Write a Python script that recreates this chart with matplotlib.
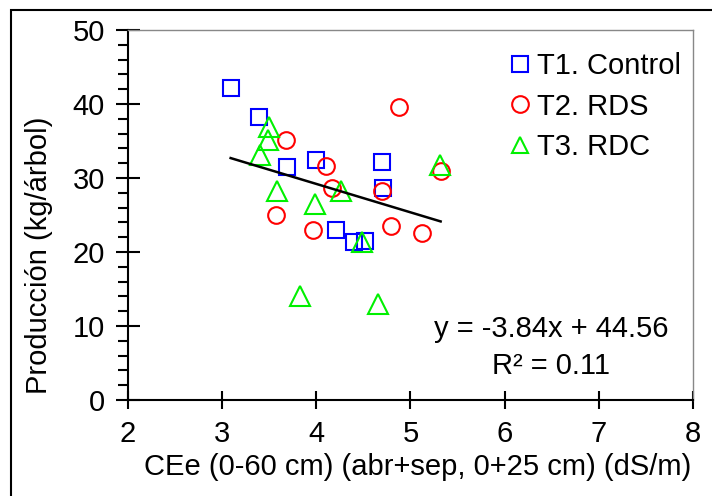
import numpy as np
import matplotlib.pyplot as plt
from matplotlib.lines import Line2D
from matplotlib.patches import Rectangle
from matplotlib.ticker import MultipleLocator

plt.rcParams["font.family"] = ["Liberation Sans", "DejaVu Sans"]

# T1. Control
t1_x = [3.09, 3.39, 3.69, 4.00, 4.70, 4.71, 4.21, 4.40, 4.52]
t1_y = [42.2, 38.3, 31.5, 32.5, 32.1, 28.7, 23.0, 21.3, 21.5]
# T2. RDS
t2_x = [4.88, 3.68, 4.10, 4.17, 4.70, 5.32, 3.57, 3.96, 4.79, 5.12]
t2_y = [39.6, 35.1, 31.6, 28.7, 28.2, 30.9, 25.0, 23.0, 23.5, 22.6]
# T3. RDC
t3_x = [3.50, 3.49, 3.40, 3.58, 3.99, 4.26, 5.31, 4.48, 3.83, 4.65]
t3_y = [36.9, 35.2, 33.1, 28.3, 26.5, 28.3, 31.7, 21.4, 14.0, 13.0]

slope = -3.84
intercept = 44.56
r2 = 0.11

fig = plt.figure(figsize=(7.12, 4.96), dpi=100)
ax = fig.add_axes([128 / 712, 96 / 496, 565 / 712, 370 / 496])

mk = dict(linestyle="none", markerfacecolor="none", markeredgewidth=1.5)
ax.plot(t1_x, t1_y, marker="s", markersize=11.5, markeredgecolor="#0000ff", **mk)
ax.plot(t2_x, t2_y, marker="o", markersize=12, markeredgecolor="#ff0000", **mk)
ax.plot(t3_x, t3_y, marker="^", markersize=15, markeredgecolor="#00f000", **mk)

# linear trend over all points
all_x = np.array(t1_x + t2_x + t3_x)
lx = np.array([all_x.min(), all_x.max()])
ax.plot(lx, slope * lx + intercept, color="black", linewidth=1.8)

ax.set_xlim(2, 8)
ax.set_ylim(0, 50)
ax.xaxis.set_major_locator(MultipleLocator(1))
ax.yaxis.set_major_locator(MultipleLocator(10))
ax.yaxis.set_minor_locator(MultipleLocator(2))

ax.tick_params(axis="both", which="major", labelsize=21, direction="inout",
               width=1.5, color="black")
ax.tick_params(axis="x", which="major", length=13, pad=8)
ax.tick_params(axis="y", which="major", length=17, pad=8)
ax.tick_params(axis="y", which="minor", direction="out", length=7, width=1.5)
ax.tick_params(top=False, right=False)

for s in ["left", "bottom"]:
    ax.spines[s].set_linewidth(1.5)
    ax.spines[s].set_color("black")
for s in ["top", "right"]:
    ax.spines[s].set_linewidth(1.0)
    ax.spines[s].set_color("#888888")

ax.set_xlabel("CEe (0-60 cm) (abr+sep, 0+25 cm) (dS/m)", fontsize=21)
ax.xaxis.set_label_coords(0.512, -0.142)
ax.set_ylabel("Producción (kg/árbol)", fontsize=21)
ax.yaxis.set_label_coords(-0.133, 0.39)

ax.text(6.49, 8.5, f"y = {slope:.2f}x + {intercept:.2f}", fontsize=21,
        ha="center", va="baseline")
ax.text(6.49, 3.5, f"R² = {r2:.2f}", fontsize=21, ha="center", va="baseline")

handles = [
    Line2D([], [], marker="s", markersize=11.5, markeredgecolor="#0000ff", **mk),
    Line2D([], [], marker="o", markersize=12, markeredgecolor="#ff0000", **mk),
    Line2D([], [], marker="^", markersize=12, markeredgecolor="#00f000", **mk),
]
ax.legend(handles, ["T1. Control", "T2. RDS", "T3. RDC"], loc="upper left",
          bbox_to_anchor=(508 / 712, 1 - 52 / 496), bbox_transform=fig.transFigure,
          frameon=False, fontsize=21, handlelength=0.8, handletextpad=0.2,
          labelspacing=0.43, borderpad=0, borderaxespad=0)

# outer frame of the figure
fig.patches.append(Rectangle((11 / 712, -0.1), 1.2, 1 - 10 / 496 + 0.1,
                             transform=fig.transFigure, fill=False,
                             edgecolor="black", linewidth=1.5))

fig.savefig("out.png", dpi=100)
